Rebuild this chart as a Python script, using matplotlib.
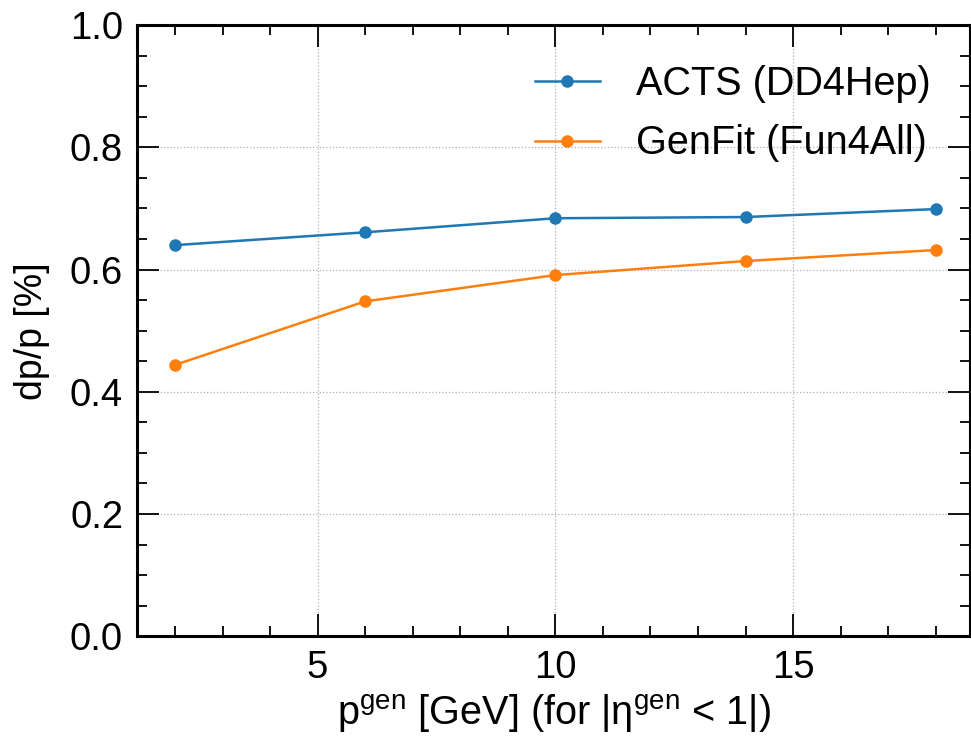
import numpy as np
import matplotlib.pyplot as plt
from matplotlib.ticker import MultipleLocator

# momentum points (GeV)
p_gen = [2, 6, 10, 14, 18]
# momentum resolution dp/p (%)
res_acts = [0.640, 0.661, 0.684, 0.686, 0.699]
res_genfit = [0.444, 0.548, 0.591, 0.614, 0.632]

plt.rcParams['font.family'] = ['Liberation Sans', 'DejaVu Sans']
plt.rcParams['mathtext.default'] = 'regular'

fig = plt.figure(figsize=(9.71, 7.39), dpi=100)
ax = fig.add_axes([0.141, 0.139, 0.858, 0.827])

ax.plot(p_gen, res_acts, '-o', color='#1f77b4', lw=1.8, ms=8,
        label='ACTS (DD4Hep)')
ax.plot(p_gen, res_genfit, '-o', color='#ff7f0e', lw=1.8, ms=8,
        label='GenFit (Fun4All)')

ax.set_xlim(1.2, 18.72)
ax.set_ylim(0, 1.0)
ax.xaxis.set_major_locator(MultipleLocator(5))
ax.xaxis.set_minor_locator(MultipleLocator(1))
ax.yaxis.set_major_locator(MultipleLocator(0.2))
ax.yaxis.set_minor_locator(MultipleLocator(0.05))
ax.yaxis.set_major_formatter(plt.FuncFormatter(lambda v, _: '%.1f' % v))

ax.tick_params(which='both', direction='in', top=True, right=True,
               labelsize=27.5, width=1.3)
ax.tick_params(which='major', length=16, pad=10)
ax.tick_params(which='minor', length=7)
for s in ax.spines.values():
    s.set_linewidth(2.2)

ax.grid(True, which='major', ls=':', color='#b0b0b0', lw=0.9)

ax.set_xlabel('p$^{gen}$ [GeV] (for |η$^{gen}$ < 1|)', fontsize=28.5)
ax.set_ylabel('dp/p [%]', fontsize=27, labelpad=14)

ax.legend(loc='upper right', frameon=False, fontsize=28.5,
          handlelength=1.65, handletextpad=0.9, labelspacing=0.55,
          borderaxespad=0.6)

fig.savefig('out.png', dpi=100)
